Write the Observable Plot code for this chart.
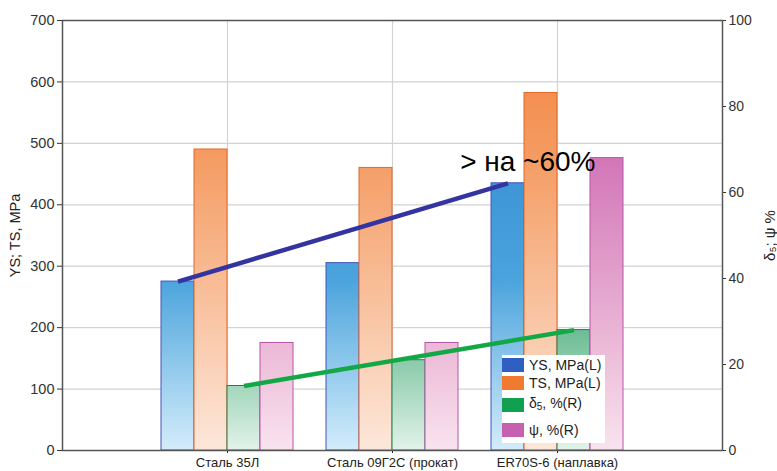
<!DOCTYPE html>
<html>
<head>
<meta charset="utf-8">
<script src="https://cdn.jsdelivr.net/npm/d3@7"></script>
<script src="https://cdn.jsdelivr.net/npm/@observablehq/plot@0.6"></script>
<style>
  html, body { margin: 0; padding: 0; background: #fff; }
  #wrap { position: relative; width: 777px; height: 471px; font-family: "Liberation Sans", Arial, sans-serif; }
  #legend { position: absolute; left: 502px; top: 355px; width: 103px; height: 88px; background: #fff; font-size: 14px; color: #222; }
  .row { display: flex; align-items: center; height: 14px; line-height: 14px; }
  .sw { width: 22px; height: 14px; margin-right: 5px; flex: none; }
</style>
</head>
<body>
<div id="wrap"></div>
<script>
// ---- data ----
const categories = ["Сталь 35Л", "Сталь 09Г2С (прокат)", "ER70S-6 (наплавка)"];
const ysMPa = [275, 305, 435];        // YS, MPa (left axis)
const tsMPa = [490, 460, 582];        // TS, MPa (left axis)
const delta5 = [15, 21, 28];          // δ5, % (right axis)
const psi = [25, 25, 68];             // ψ, % (right axis)
const seriesNames = ["YS, MPa(L)", "TS, MPa(L)", "δ5, %(R)", "ψ, %(R)"];
const leftTicks = [0, 100, 200, 300, 400, 500, 600, 700];
const rightTicks = [0, 20, 40, 60, 80, 100];
const annotationText = "> на ~60%";

// ---- derived ----
const leftMax = 700, rightMax = 100;
const k = leftMax / rightMax; // percent -> left units
const barW = 0.2;
const series = [
  {name: seriesNames[0], values: ysMPa, factor: 1},
  {name: seriesNames[1], values: tsMPa, factor: 1},
  {name: seriesNames[2], values: delta5, factor: k},
  {name: seriesNames[3], values: psi, factor: k}
];
const bars = series.map((s, si) => categories.map((c, ci) => ({
  cat: c,
  x1: (ci + 1) + (si - 2) * barW,
  x2: (ci + 1) + (si - 1) * barW,
  v: s.values[ci] * s.factor
})));
const center = (ci, si) => (ci + 1) + (si - 1.5) * barW;
const ysTrend = [{x1: center(0, 0), y1: ysMPa[0], x2: center(2, 0), y2: ysMPa[2]}];
const dTrend = [{x1: center(0, 2), y1: delta5[0] * k, x2: center(2, 2), y2: delta5[2] * k}];
const annotation = [{x: 3, y: ysMPa[2], text: annotationText}];

const gradStops = [
  [[0, "#2a7fd0"], [0.6, "#4aa3dc"], [1, "#d3ecfb"]],
  [[0, "#f2823c"], [0.3, "#f49a60"], [1, "#fde7da"]],
  [[0, "#1f9a5e"], [0.72, "#6cbc94"], [1, "#e2f3ea"]],
  [[0, "#c85aaa"], [0.32, "#d276b8"], [0.75, "#ebb8d6"], [1, "#f9e3ef"]]
];
const strokes = ["#4552b8", "#e0692e", "#1f7f48", "#b955a8"];
const swatches = ["#2f5fc0", "#f07a30", "#10a050", "#c860b0"];

const font = "Liberation Sans, Arial, sans-serif";

const defsMark = (index, scales) => {
  const defs = d3.create("svg:defs");
  const yTop = scales.y(leftMax), yBot = scales.y(0);
  gradStops.forEach((stops, i) => {
    const g = defs.append("linearGradient").attr("id", "g" + i)
      .attr("gradientUnits", "userSpaceOnUse")
      .attr("x1", 0).attr("x2", 0).attr("y1", yTop).attr("y2", yBot);
    stops.forEach(([o, c]) => g.append("stop").attr("offset", o).attr("stop-color", c));
  });
  return defs.node();
};

const plot = Plot.plot({
  width: 777,
  height: 471,
  marginLeft: 62,
  marginRight: 55,
  marginTop: 20,
  marginBottom: 21,
  style: {fontFamily: font, background: "#fff"},
  x: {domain: [0, 4]},
  y: {domain: [0, leftMax]},
  marks: [
    defsMark,
    Plot.gridY(leftTicks, {stroke: "#d2d2d2", strokeOpacity: 1, strokeWidth: 1.2}),
    Plot.gridX([1, 2, 3], {stroke: "#d2d2d2", strokeOpacity: 1, strokeWidth: 1.2}),
    ...bars.map((b, si) => Plot.rectY(b, {x1: "x1", x2: "x2", y: "v", fill: `url(#g${si})`, stroke: strokes[si], strokeWidth: 1})),
    Plot.link(ysTrend, {x1: "x1", y1: "y1", x2: "x2", y2: "y2", stroke: "#3434a0", strokeWidth: 4.5}),
    Plot.link(dTrend, {x1: "x1", y1: "y1", x2: "x2", y2: "y2", stroke: "#12a845", strokeWidth: 4.5}),
    Plot.text(annotation, {x: "x", y: "y", text: "text", textAnchor: "end", lineAnchor: "bottom", dx: 38, dy: -12, fontSize: 28, fill: "#000", fontFamily: font}),
    Plot.axisY({ticks: leftTicks, tickSize: 5, tickPadding: 3, fontSize: 14.5, color: "#333", label: null}),
    Plot.axisY({anchor: "right", ticks: rightTicks.map(t => t * k), tickFormat: d => String(Math.round(d / k)), tickSize: 3, tickPadding: 3, fontSize: 14, color: "#333", label: null}),
    Plot.axisX({ticks: [1, 2, 3], tickFormat: d => categories[d - 1], tickSize: 3, tickPadding: 4, fontSize: 13, color: "#222", label: null}),
    Plot.frame({stroke: "#555", strokeWidth: 1.5}),
    Plot.text(["YS; TS, MPa"], {frameAnchor: "left", textAnchor: "middle", dx: -47, rotate: -90, fontSize: 14.5, fill: "#222", fontFamily: font}),
    Plot.text(["δ₅; ψ %"], {frameAnchor: "right", textAnchor: "middle", dx: 48, rotate: -90, fontSize: 15, fill: "#222", fontFamily: font})
  ]
});

const wrap = document.getElementById("wrap");
wrap.appendChild(plot);

const legend = document.createElement("div");
legend.id = "legend";
const rowGaps = [3, 4, 8, 11];
series.forEach((s, i) => {
  const row = document.createElement("div");
  row.className = "row";
  row.style.marginTop = rowGaps[i] + "px";
  const sw = document.createElement("div");
  sw.className = "sw";
  sw.style.background = swatches[i];
  const label = document.createElement("span");
  if (i === 2) {
    label.innerHTML = "δ<sub style='font-size:10px;vertical-align:-2px'>5</sub>, %(R)";
  } else {
    label.textContent = s.name;
  }
  row.appendChild(sw);
  row.appendChild(label);
  legend.appendChild(row);
});
wrap.appendChild(legend);
</script>
</body>
</html>
